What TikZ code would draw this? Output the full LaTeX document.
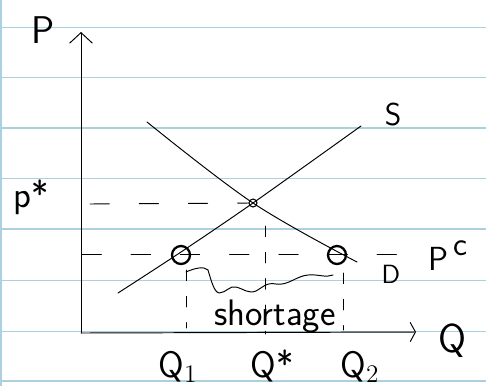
\documentclass[tikz,border=0pt]{standalone}
\usetikzlibrary{arrows.meta}
\definecolor{ruleblue}{RGB}{172,208,224}
\begin{document}
\begin{tikzpicture}[x=0.02cm,y=-0.02cm,
  rule/.style={draw=ruleblue,line width=0.9pt},
  pen/.style={draw=black,line width=0.55pt,line cap=round,line join=round},
  guide/.style={pen,dash pattern=on 11pt off 17pt},
  tick/.style={pen,dash pattern=on 6pt off 9pt},
  ring/.style={circle,draw=black,line width=1.3pt,minimum size=0.36cm,inner sep=0pt},
  dot/.style={circle,draw=black,line width=0.6pt,minimum size=0.16cm,inner sep=0pt},
  lbl/.style={font=\sffamily,inner sep=0pt,text=black}]
\fill[white] (0,0) rectangle (486,386);
\useasboundingbox (0,0) rectangle (486,386);
% ruled paper
\foreach \y in {27.5,77.5,128,178.5,229,280.5,331.5,381}
  \draw[rule] (0,\y) -- (486,\y);
\draw[rule] (1,0) -- (1,386);
% axes
\coordinate (O) at (81,333);
\coordinate (Ptop) at (81,32);
\coordinate (Qend) at (416,332);
\draw[pen,-{Straight Barb[length=6pt,width=13pt]}] (O) -- (Ptop);
\draw[pen,-{Straight Barb[length=3pt,width=11pt]}] (O) -- (Qend);
% equilibrium and points
\node[dot] (E) at (253,203) {};
\node[ring] (A) at (181,255) {};
\node[ring] (B) at (337,255) {};
% supply
\draw[pen] plot[smooth,tension=0.5] coordinates {(118,293) (181,252) (253,203) (361,126)};
% demand
\draw[pen] plot[smooth,tension=0.6] coordinates {(147,122) (253,203) (357,262)};
% price guides
\coordinate (PsL) at (90,204);
\coordinate (PcL) at (82,254);
\coordinate (PcR) at (407,254);
\draw[guide] (PsL) -- (E.west);
\draw[guide] (PcL) -- (PcR);
% vertical guides
\coordinate (q1t) at (186,270);
\coordinate (q1b) at (186,328);
\coordinate (qst) at (265,226);
\coordinate (qsb) at (265,334);
\coordinate (q2t) at (343,273);
\coordinate (q2b) at (343,330);
\draw[tick] (q1t) -- (q1b);
\draw[tick] (qst) -- (qsb);
\draw[tick] (q2t) -- (q2b);
% shortage brace (hand drawn)
\draw[pen] (186,272) .. controls (195,268) and (204,266) .. (208,270)
  .. controls (211,280) and (214,292) .. (219,293)
  .. controls (226,293) and (230,285) .. (236,287)
  .. controls (244,289) and (248,294) .. (256,291)
  .. controls (262,288) and (266,282) .. (276,284)
  .. controls (288,286) and (296,276) .. (308,275)
  .. controls (318,274) and (326,278) .. (333,275);
% labels
\node[lbl,font=\sffamily\fontsize{22}{22}\selectfont] (lP) at (43,30) {P};
\node[lbl,font=\sffamily\fontsize{21}{21}\selectfont] (lps) at (31,197) {p*};
\node[lbl,font=\sffamily\fontsize{18}{18}\selectfont] (lS) at (393,115) {S};
\node[lbl,font=\sffamily\fontsize{15}{15}\selectfont] (lD) at (391,274) {D};
\node[lbl,font=\sffamily\fontsize{19}{19}\selectfont,anchor=west] (lPc) at (428,256) {P\,\raisebox{0.45em}{c}};
\node[lbl,font=\sffamily\fontsize{21}{21}\selectfont] (lsh) at (275,316) {shortage};
\node[lbl,font=\sffamily\fontsize{23}{23}\selectfont] (lQ) at (452,341) {Q};
\node[lbl,font=\sffamily\fontsize{21}{21}\selectfont,anchor=base] (lQ1) at (178,377) {Q$_{\scriptstyle 1}$};
\node[lbl,font=\sffamily\fontsize{21}{21}\selectfont,anchor=base] (lQs) at (272,377) {Q*};
\node[lbl,font=\sffamily\fontsize{21}{21}\selectfont,anchor=base] (lQ2) at (360,377) {Q$_{2}$};
\end{tikzpicture}
\end{document}
